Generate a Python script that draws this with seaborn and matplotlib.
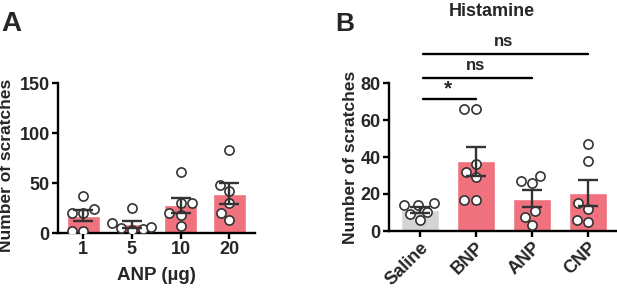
import numpy as np
import pandas as pd
import matplotlib
matplotlib.use("Agg")
import matplotlib.pyplot as plt
import seaborn as sns

# Panel A: ANP dose response
doses = ["1", "5", "10", "20"]
anp_1 = [37, 24, 20, 20, 2, 2]
anp_5 = [25, 10, 5, 3, 4, 6]
anp_10 = [61, 30, 30, 20, 18, 7]
anp_20 = [83, 48, 42, 30, 13, 20]

# Panel B: histamine
groups = ["Saline", "BNP", "ANP", "CNP"]
saline = [14, 15, 14, 6, 10.5, 9]
bnp = [66, 66, 36, 32, 29.4, 16.8, 16.8]
anp = [30, 26, 27, 11, 7.8, 3]
cnp = [47, 38, 15, 12, 5, 6]

sig_pairs = [(0, 1, 71.3, "*"), (0, 2, 82.7, "ns"), (0, 3, 95.7, "ns")]

pink = "#F0727E"
grey = "#D4D4D4"
dark = "#333333"

sns.set_style("ticks")
plt.rcParams["font.family"] = ["Liberation Sans", "DejaVu Sans"]
plt.rcParams["font.weight"] = "bold"


def long_form(names, series):
    rows = []
    for n, vals in zip(names, series):
        for v in vals:
            rows.append((n, v))
    return pd.DataFrame(rows, columns=["group", "value"])


def draw_panel(ax, df, order, palette):
    sns.barplot(data=df, x="group", y="value", order=order, hue="group",
                palette=palette, errorbar=None, width=0.67, ax=ax,
                legend=False, saturation=1, zorder=1)
    sns.swarmplot(data=df, x="group", y="value", order=order, color="white",
                  edgecolor=dark, linewidth=1.2, size=6.6, ax=ax, zorder=3)
    stats = df.groupby("group", sort=False)["value"].agg(["mean", "sem"]).reindex(order)
    ax.errorbar(np.arange(len(order)), stats["mean"], yerr=stats["sem"],
                fmt="none", ecolor=dark, elinewidth=1.7, capsize=7,
                capthick=1.7, zorder=4)
    for s in ["top", "right"]:
        ax.spines[s].set_visible(False)
    for s in ["left", "bottom"]:
        ax.spines[s].set_linewidth(1.7)
        ax.spines[s].set_color("black")
    ax.tick_params(width=1.7, length=4, labelsize=13, color="black", pad=2)
    for lab in ax.get_xticklabels() + ax.get_yticklabels():
        lab.set_fontweight("bold")


fig = plt.figure(figsize=(6.17, 2.89), dpi=100)

# Panel A
axA = fig.add_axes([58 / 617, 1 - 233 / 289, 197 / 617, 150 / 289])
dfA = long_form(doses, [anp_1, anp_5, anp_10, anp_20])
draw_panel(axA, dfA, doses, [pink] * 4)
axA.set_ylim(0, 150)
axA.set_yticks([0, 50, 100, 150])
axA.set_xlim(-0.52, 3.53)
axA.set_xlabel("ANP (µg)", fontsize=13.5, fontweight="bold", labelpad=6)
axA.set_ylabel("Number of scratches", fontsize=12.5, fontweight="bold", labelpad=0)
axA.yaxis.set_label_coords(-0.225, 0.45)

# Panel B
axB = fig.add_axes([389 / 617, 1 - 231 / 289, 228 / 617, 148 / 289])
dfB = long_form(groups, [saline, bnp, anp, cnp])
draw_panel(axB, dfB, groups, [grey, pink, pink, pink])
axB.set_ylim(0, 80)
axB.set_yticks([0, 20, 40, 60, 80])
axB.set_xlim(-0.55, 3.52)
axB.set_xlabel("")
axB.set_ylabel("Number of scratches", fontsize=12.5, fontweight="bold", labelpad=2)
plt.setp(axB.get_xticklabels(), rotation=45, ha="right", rotation_mode="anchor")

for i, j, y, txt in sig_pairs:
    axB.plot([i + 0.05, j], [y, y], color="black", lw=1.7, clip_on=False)
    if txt == "*":
        axB.text((i + j) / 2, y + 0.5, txt, ha="center", va="bottom",
                 fontsize=15, fontweight="bold", clip_on=False)
    else:
        axB.text((i + j) / 2, y + 2.5, txt, ha="center", va="bottom",
                 fontsize=12, fontweight="bold", clip_on=False)

fig.text(492 / 617, 1 - 11 / 289, "Histamine", ha="center", va="center",
         fontsize=13, fontweight="bold")
fig.text(1 / 617, 1 - 24 / 289, "A", ha="left", va="center", fontsize=20,
         fontweight="bold")
fig.text(335 / 617, 1 - 24 / 289, "B", ha="left", va="center", fontsize=19,
         fontweight="bold")

fig.savefig("out.png", dpi=100)
